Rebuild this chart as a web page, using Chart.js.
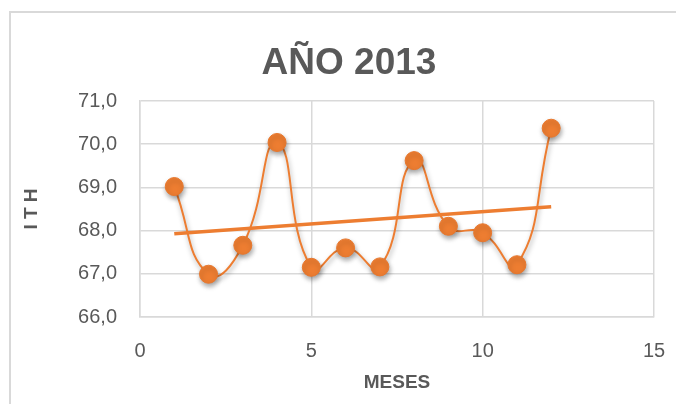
<!DOCTYPE html>
<html>
<head>
<meta charset="utf-8">
<script src="https://cdn.jsdelivr.net/npm/chart.js@4.4.1/dist/chart.umd.min.js"></script>
<style>
    html, body { margin: 0; padding: 0; background: #fff; }
    canvas { display: block; }
</style>
</head>
<body>
<canvas id="myChart" width="676" height="404"></canvas>
<script>
// meses y valores de ITH
const months = [1, 2, 3, 4, 5, 6, 7, 8, 9, 10, 11, 12];
const ithValues = [69.02, 66.99, 67.66, 70.04, 67.15, 67.6, 67.16, 69.62, 68.1, 67.95, 67.21, 70.37];
const xTicks = [0, 5, 10, 15];
const yTicks = [66, 67, 68, 69, 70, 71];

const chartTitle = "AÑO 2013";
const xTitle = "MESES";
const yTitle = "I T H";

const orange = "#ED7D31";
const grey = "#595959";
const gridColor = "#D9D9D9";
const fontName = "'Liberation Sans', Arial, sans-serif";

// linea de tendencia lineal (minimos cuadrados)
const n = months.length;
const meanX = months.reduce( ( a, b ) => a + b, 0 ) / n;
const meanY = ithValues.reduce( ( a, b ) => a + b, 0 ) / n;
let sxy = 0, sxx = 0;
for ( let i = 0; i < n; i++ ) {
    sxy += ( months[i] - meanX ) * ( ithValues[i] - meanY );
    sxx += ( months[i] - meanX ) * ( months[i] - meanX );
}
const slope = sxy / sxx;
const intercept = meanY - slope * meanX;
const trendX = [months[0], months[n - 1]];

const outerBorder = {
    id: "outerBorder",
    beforeDraw( chart ) {
        const ctx = chart.ctx;
        ctx.save();
        ctx.strokeStyle = gridColor;
        ctx.lineWidth = 2;
        ctx.strokeRect( 10, 12, 720, 520 );
        ctx.restore();
    }
};

const shadow = {
    id: "shadow",
    beforeDatasetDraw( chart, args ) {
        if ( args.index !== 1 ) return;
        const ctx = chart.ctx;
        ctx.save();
        ctx.shadowColor = "rgba(0,0,0,0.35)";
        ctx.shadowBlur = 5;
        ctx.shadowOffsetX = 1;
        ctx.shadowOffsetY = 3;
    },
    afterDatasetDraw( chart, args ) {
        if ( args.index !== 1 ) return;
        chart.ctx.restore();
    }
};

const myChartRef = document.getElementById( "myChart" ).getContext( "2d" );

new Chart( myChartRef, {
    type: "scatter",
    data: {
        datasets: [
            {
                label: "Lineal",
                data: trendX.map( x => ( { x: x, y: intercept + slope * x } ) ),
                showLine: true,
                borderColor: orange,
                borderWidth: 3.5,
                pointRadius: 0,
                fill: false,
            },
            {
                label: "ITH",
                data: months.map( ( m, i ) => ( { x: m, y: ithValues[i] } ) ),
                showLine: true,
                tension: 0.5,
                borderColor: orange,
                borderWidth: 2,
                backgroundColor: orange,
                pointBackgroundColor: orange,
                pointBorderColor: "#E8772C",
                pointBorderWidth: 1,
                pointRadius: 9,
                fill: false,
            }
        ]
    },
    options: {
        responsive: false,
        animation: false,
        // padding izquierdo para centrar el titulo como en Excel
        layout: {
            padding: { left: 44, right: 22, top: 0, bottom: 0 }
        },
        plugins: {
            legend: { display: false },
            tooltip: { enabled: false },
            title: {
                display: true,
                text: chartTitle,
                color: grey,
                font: { family: fontName, size: 37, weight: "bold", lineHeight: 1.2 },
                padding: { top: 42, bottom: 14.6 }
            }
        },
        scales: {
            x: {
                type: "linear",
                min: xTicks[0],
                max: xTicks[xTicks.length - 1],
                afterBuildTicks: scale => { scale.ticks = xTicks.map( v => ( { value: v } ) ); },
                afterFit: scale => {
                    scale.height = 87;
                    scale.paddingLeft = 0;
                    scale.paddingRight = 0;
                },
                ticks: {
                    color: grey,
                    font: { family: fontName, size: 20 },
                    padding: 22,
                },
                grid: {
                    color: gridColor,
                    lineWidth: 1.5,
                    drawTicks: false,
                },
                border: { color: gridColor, width: 1.5 },
                title: {
                    display: true,
                    text: xTitle,
                    color: grey,
                    font: { family: fontName, size: 19, weight: "bold", lineHeight: 1.2 },
                    padding: { top: 0, bottom: 9.6 }
                }
            },
            y: {
                min: yTicks[0],
                max: yTicks[yTicks.length - 1],
                afterBuildTicks: scale => { scale.ticks = yTicks.map( v => ( { value: v } ) ); },
                afterFit: scale => { scale.width = 96; },
                ticks: {
                    color: grey,
                    font: { family: fontName, size: 20 },
                    padding: 23,
                    callback: v => v.toFixed( 1 ).replace( ".", "," ),
                },
                grid: {
                    color: gridColor,
                    lineWidth: 1.5,
                    drawTicks: false,
                },
                border: { color: gridColor, width: 1.5 },
                title: {
                    display: true,
                    text: yTitle,
                    color: grey,
                    font: { family: fontName, size: 19, weight: "bold", lineHeight: 1.2 },
                    padding: { top: -23.4, bottom: 0 }
                }
            }
        }
    },
    plugins: [outerBorder, shadow]
} );
</script>
</body>
</html>
